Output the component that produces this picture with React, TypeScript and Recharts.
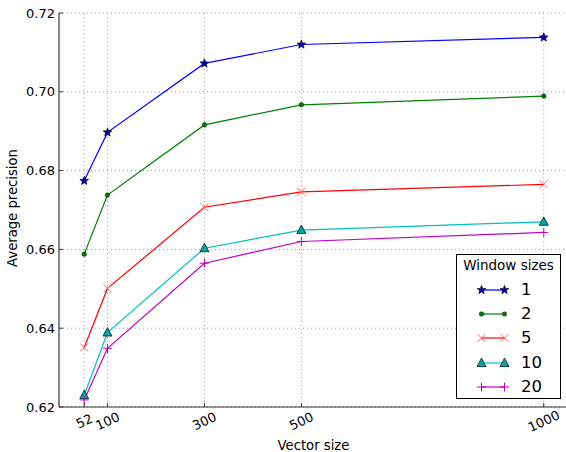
import { CartesianGrid, Label, Line, LineChart, XAxis, YAxis } from "recharts";

const VECTOR_SIZES = [52, 100, 300, 500, 1000];
const WIN_1 = [0.6774, 0.6897, 0.7072, 0.712, 0.7138];
const WIN_2 = [0.6588, 0.6738, 0.6916, 0.6967, 0.6989];
const WIN_5 = [0.6351, 0.6501, 0.6707, 0.6746, 0.6765];
const WIN_10 = [0.623, 0.6389, 0.6603, 0.6649, 0.667];
const WIN_20 = [0.6218, 0.6349, 0.6565, 0.662, 0.6643];
const Y_TICKS = [0.62, 0.64, 0.66, 0.68, 0.7, 0.72];

const FONT = "'DejaVu Sans', sans-serif";

type Kind = "star" | "dot" | "x" | "tri" | "plus";

const SERIES: { key: string; label: string; color: string; kind: Kind; values: number[] }[] = [
  { key: "w1", label: "1", color: "#0000ff", kind: "star", values: WIN_1 },
  { key: "w2", label: "2", color: "#008000", kind: "dot", values: WIN_2 },
  { key: "w5", label: "5", color: "#ff0000", kind: "x", values: WIN_5 },
  { key: "w10", label: "10", color: "#00bfbf", kind: "tri", values: WIN_10 },
  { key: "w20", label: "20", color: "#bf00bf", kind: "plus", values: WIN_20 },
];

const data = VECTOR_SIZES.map((x, i) => {
  const row: Record<string, number> = { x };
  SERIES.forEach((s) => (row[s.key] = s.values[i]));
  return row;
});

function starPoints(cx: number, cy: number, R: number, r: number) {
  const pts: string[] = [];
  for (let i = 0; i < 10; i++) {
    const a = -Math.PI / 2 + (i * Math.PI) / 5;
    const rad = i % 2 === 0 ? R : r;
    pts.push(`${cx + rad * Math.cos(a)},${cy + rad * Math.sin(a)}`);
  }
  return pts.join(" ");
}

function Marker({ kind, cx, cy, color }: { kind: Kind; cx: number; cy: number; color: string }) {
  if (kind === "star")
    return <polygon points={starPoints(cx, cy, 4.6, 2)} fill="#0000b0" stroke="#000" strokeWidth={0.6} />;
  if (kind === "dot") return <circle cx={cx} cy={cy} r={2.3} fill={color} stroke="#000" strokeWidth={0.4} />;
  if (kind === "x")
    return (
      <g stroke="#ff6060" strokeWidth={1}>
        <line x1={cx - 4} y1={cy - 4} x2={cx + 4} y2={cy + 4} />
        <line x1={cx - 4} y1={cy + 4} x2={cx + 4} y2={cy - 4} />
      </g>
    );
  if (kind === "tri")
    return (
      <polygon
        points={`${cx},${cy - 5} ${cx - 4.5},${cy + 3.5} ${cx + 4.5},${cy + 3.5}`}
        fill="#00a8a8"
        stroke="#000"
        strokeWidth={0.7}
      />
    );
  return (
    <g stroke={color} strokeWidth={1}>
      <line x1={cx - 4.5} y1={cy} x2={cx + 4.5} y2={cy} />
      <line x1={cx} y1={cy - 4.5} x2={cx} y2={cy + 4.5} />
    </g>
  );
}

function XTick(props: any) {
  const { x, y, payload } = props;
  return (
    <g transform={`translate(${x},${y})`}>
      <text
        transform="rotate(-25)"
        textAnchor="middle"
        dy="0.35em"
        fontSize={13}
        fontFamily={FONT}
        fill="#000"
      >
        {payload.value}
      </text>
    </g>
  );
}

function YLabel(props: any) {
  const { viewBox } = props;
  const cx = viewBox.x + 12.5;
  const cy = viewBox.y + viewBox.height / 2 - 2;
  return (
    <text
      transform={`translate(${cx},${cy}) rotate(-90)`}
      textAnchor="middle"
      dominantBaseline="central"
      fontSize={13.2}
      fontFamily={FONT}
      fill="#000"
    >
      Average precision
    </text>
  );
}

function XLabel(props: any) {
  const { viewBox } = props;
  return (
    <text
      x={viewBox.x + viewBox.width / 2}
      y={viewBox.y + 43}
      textAnchor="middle"
      fontSize={13.2}
      fontFamily={FONT}
      fill="#000"
    >
      Vector size
    </text>
  );
}

function LegendBox() {
  return (
    <div
      style={{
        position: "absolute",
        left: 456,
        top: 254,
        width: 103,
        height: 143,
        border: "1px solid #000",
        background: "#fff",
        fontFamily: FONT,
      }}
    >
      <div style={{ position: "absolute", top: 2, width: "100%", textAlign: "center", fontSize: 13.5 }}>
        Window sizes
      </div>
      {SERIES.map((s, i) => {
        const top = 25 + i * 24.2;
        return (
          <div key={s.key} style={{ position: "absolute", left: 0, top, height: 20, width: "100%" }}>
            <svg width={60} height={20} style={{ position: "absolute", left: 0, top: 0 }}>
              <line x1={24.5} y1={10} x2={47.5} y2={10} stroke={s.color} strokeWidth={1.2} />
              <Marker kind={s.kind} cx={24.5} cy={10} color={s.color} />
              <Marker kind={s.kind} cx={47.5} cy={10} color={s.color} />
            </svg>
            <span style={{ position: "absolute", left: 64, top: 0, lineHeight: "20px", fontSize: 16.5 }}>
              {s.label}
            </span>
          </div>
        );
      })}
    </div>
  );
}

export default function App() {
  return (
    <div
      style={{
        position: "absolute",
        left: 0,
        top: 0,
        width: 566,
        height: 452,
        overflow: "hidden",
        background: "#fff",
      }}
    >
      <LineChart width={570} height={452} data={data} margin={{ top: 13, right: 2, bottom: 0, left: 0 }}>
        <CartesianGrid
          xAxisId="b"
          yAxisId="l"
          stroke="#999"
          strokeDasharray="1 3"
          horizontalValues={Y_TICKS}
          verticalValues={VECTOR_SIZES}
        />
        <XAxis
          xAxisId="b"
          type="number"
          dataKey="x"
          domain={[0, 1050]}
          ticks={VECTOR_SIZES}
          interval={0}
          height={45}
          tickSize={-4}
          tickMargin={18}
          tick={<XTick />}
          axisLine={{ stroke: "#333", strokeWidth: 1.2 }}
          tickLine={{ stroke: "#333" }}
        >
          <Label content={<XLabel />} />
        </XAxis>
        <XAxis
          xAxisId="t"
          orientation="top"
          type="number"
          dataKey="x"
          domain={[0, 1050]}
          ticks={VECTOR_SIZES}
          interval={0}
          height={0}
          tickSize={-4}
          tick={false}
          axisLine={{ stroke: "#333", strokeWidth: 1.2 }}
          tickLine={{ stroke: "#333" }}
        />
        <YAxis
          yAxisId="l"
          type="number"
          domain={[0.62, 0.72]}
          ticks={Y_TICKS}
          interval={0}
          width={59}
          tickSize={-4}
          tickMargin={8}
          tickFormatter={(v: number) => v.toFixed(2)}
          tick={{ fontSize: 13, fontFamily: FONT, fill: "#000" }}
          axisLine={{ stroke: "#333", strokeWidth: 1.2 }}
          tickLine={{ stroke: "#333" }}
        >
          <Label content={<YLabel />} />
        </YAxis>
        <YAxis
          yAxisId="r"
          orientation="right"
          type="number"
          domain={[0.62, 0.72]}
          ticks={Y_TICKS}
          interval={0}
          width={0}
          tickSize={-4}
          tick={false}
          axisLine={{ stroke: "#333", strokeWidth: 1.2 }}
          tickLine={{ stroke: "#333" }}
        />
        {SERIES.map((s) => (
          <Line
            key={s.key}
            xAxisId="b"
            yAxisId="l"
            type="linear"
            dataKey={s.key}
            stroke={s.color}
            strokeWidth={1.2}
            isAnimationActive={false}
            dot={(p: any) => <Marker key={`${s.key}-${p.index}`} kind={s.kind} cx={p.cx} cy={p.cy} color={s.color} />}
            activeDot={false}
          />
        ))}
      </LineChart>
      <LegendBox />
    </div>
  );
}
